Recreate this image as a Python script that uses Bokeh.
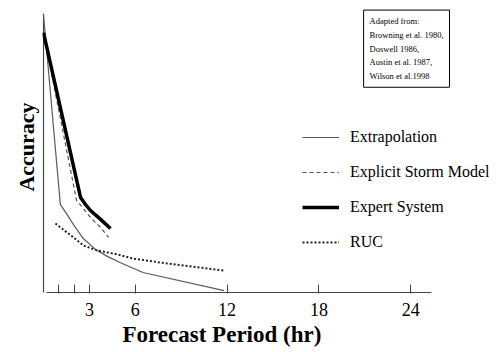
from bokeh.plotting import figure
from bokeh.models import Range1d, FixedTicker, Legend, LegendItem, Label, Title
from bokeh.embed import file_html
from bokeh.resources import INLINE

# ---- data (hours, relative accuracy 0-100) ----
ext_x = [0, 1.1, 1.45, 1.95, 2.6, 3.4, 4.2, 5.0, 6.5, 11.8]
ext_y = [100, 31.7, 28.8, 24.5, 19.4, 15.5, 12.9, 10.8, 7.2, 0.7]

storm_x = [0, 2.16, 2.55, 3.07, 3.73, 4.25]
storm_y = [93.5, 33.1, 30.6, 27.0, 23.4, 19.8]

expert_x = [0, 2.42, 2.7, 3.07, 3.73, 4.38]
expert_y = [93.5, 34.2, 32.0, 29.5, 26.3, 23.0]

ruc_x = [0.78, 1.96, 2.61, 3.53, 4.84, 5.88, 8.10, 11.76]
ruc_y = [24.8, 19.8, 16.9, 15.1, 13.7, 12.2, 10.4, 7.9]

tick_values = [1, 2, 3, 6, 12, 18, 24]
tick_hidden = [1, 2]
x_axis_end = 25.36   # where the drawn x axis line stops
y_axis_top = 100

series_names = ["Extrapolation", "Explicit Storm Model", "Expert System", "RUC"]
source_text = "Adapted from:\nBrowning et al. 1980,\nDoswell 1986,\nAustin et al. 1987,\nWilson et al.1998"

SERIF = "Liberation Serif"

p = figure(width=497, height=352, x_range=Range1d(-0.065, 29.67), y_range=Range1d(-0.36, 105.04),
           output_backend="svg", toolbar_location=None,
           min_border_left=42, min_border_right=0, min_border_top=0, min_border_bottom=59)
p.grid.visible = False
p.outline_line_color = None
p.background_fill_color = "white"

# x axis (ticks + labels from Bokeh; axis line drawn to its true length below)
xa = p.xaxis[0]
xa.ticker = FixedTicker(ticks=tick_values)
xa.major_label_overrides = {t: "" for t in tick_hidden}
xa.axis_line_color = None
xa.major_tick_line_color = "#444444"
xa.major_tick_in = 9
xa.major_tick_out = 0
xa.minor_tick_line_color = None
xa.major_label_text_font = SERIF
xa.major_label_text_font_size = "18px"
xa.major_label_text_color = "black"
xa.major_label_standoff = 9

# y axis (label only)
ya = p.yaxis[0]
ya.ticker = FixedTicker(ticks=[])
ya.axis_line_color = None
ya.major_tick_line_color = None
ya.minor_tick_line_color = None
ya.major_tick_in = 0
ya.major_tick_out = 0
ya.major_label_standoff = 0
ya.axis_label = "Accuracy"
ya.axis_label_text_font = SERIF
ya.axis_label_text_font_style = "bold"
ya.axis_label_text_font_size = "22px"
ya.axis_label_text_color = "black"
ya.axis_label_standoff = 4

# axis lines
p.segment(x0=[0, 0.2], y0=[0, 0], x1=[0, x_axis_end], y1=[y_axis_top + 0.4, 0],
          line_color="#444444", line_width=1.2)

r_ext = p.line(ext_x, ext_y, line_color="#5a5a5a", line_width=1.2)
r_storm = p.line(storm_x, storm_y, line_color="#555555", line_width=1.2, line_dash="4 3")
r_expert = p.line(expert_x, expert_y, line_color="black", line_width=3.5)
r_ruc = p.line(ruc_x, ruc_y, line_color="#222222", line_width=2, line_dash="2 2")

legend = Legend(items=[LegendItem(label=n, renderers=[r]) for n, r in
                       zip(series_names, [r_ext, r_storm, r_expert, r_ruc])],
                location=(260, 41), padding=0, margin=0, spacing=15,
                glyph_width=37, glyph_height=20, label_height=20, label_standoff=11,
                border_line_color=None, background_fill_alpha=0,
                label_text_font=SERIF, label_text_font_size="16px", label_text_color="black")
p.add_layout(legend)

title = Title(text="Forecast Period (hr)", align="left", offset=80, standoff=2,
              text_font=SERIF, text_font_style="bold", text_font_size="23px", text_color="black")
p.add_layout(title, "below")

p.add_layout(Label(x=20.92, y=101.6, text=source_text, text_font=SERIF,
                   text_font_size="8.5px", text_line_height=1.38, text_color="black",
                   text_baseline="top", border_line_color="black",
                   background_fill_color="white", padding=6))

open("out.html", "w").write(file_html(p, INLINE))
